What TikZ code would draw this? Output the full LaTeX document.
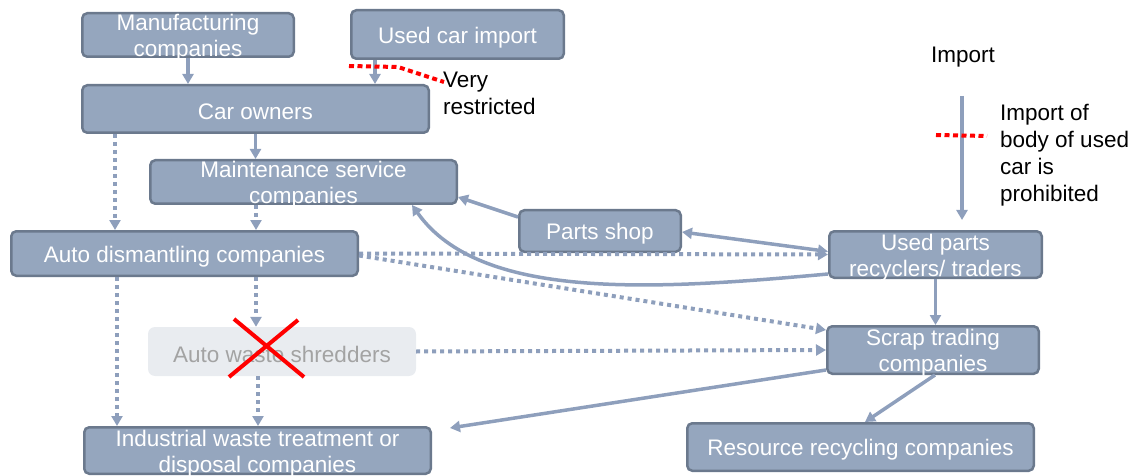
\documentclass[tikz,border=0pt]{standalone}
\usepackage{fontspec}
\setmainfont{Liberation Sans}
\usetikzlibrary{arrows.meta,calc}
\definecolor{boxfill}{HTML}{95A6BE}
\definecolor{boxline}{HTML}{6B798D}
\definecolor{flow}{HTML}{8E9FBC}
\definecolor{shrfill}{HTML}{E9ECF0}
\definecolor{shrtext}{HTML}{A3A3A3}
\tikzset{
  box/.style={draw=boxline, line width=2.5pt, fill=boxfill, rounded corners=5pt, inner sep=0pt},
  boxtext/.style={text=white, align=center, inner sep=0pt, font=\fontsize{22.5}{26}\selectfont},
  ghost/.style={fill=shrfill, rounded corners=7pt, inner sep=0pt},
  ghosttext/.style={text=shrtext, inner sep=0pt, font=\fontsize{22.5}{26}\selectfont},
  solidflow/.style={draw=flow, line width=3.5pt, -{Triangle[length=10pt,width=11pt]}},
  dotflow/.style={draw=flow, line width=4pt, dash pattern=on 4pt off 4pt,
    -{Triangle[length=10pt,width=11pt]}},
  bothflow/.style={draw=flow, line width=3.5pt,
    {Triangle[length=10pt,width=11pt]}-{Triangle[length=10pt,width=11pt]}},
  reddot/.style={draw=red, line width=4pt, dash pattern=on 5pt off 3.5pt},
  redx/.style={draw=red, line width=4pt},
  note/.style={text=black, align=left, inner sep=0pt, font=\fontsize{22.5}{26.8}\selectfont}
}
% #1 name, #2 centre, #3 width, #4 height, #5 text
\newcommand\flowbox[5]{%
  \node[box, minimum width=#3, minimum height=#4] (#1) at #2 {};
  \node[boxtext] (#1-t) at ([yshift=-3pt]#1.center) {#5};}
\begin{document}
\begin{tikzpicture}[x=1pt,y=-1pt]
\useasboundingbox (0,0) rectangle (1136,476);
% nodes
\flowbox{mfg}{(188,35)}{211.5pt}{43.5pt}{Manufacturing\\companies}
\flowbox{imp}{(457.5,34.5)}{212.5pt}{48.5pt}{Used car import}
\flowbox{own}{(255.5,109)}{346.5pt}{47.5pt}{Car owners}
\flowbox{mnt}{(303.5,182)}{306.5pt}{43.5pt}{Maintenance service\\companies}
\flowbox{dis}{(184.5,253.5)}{346.5pt}{44.5pt}{Auto dismantling companies}
\flowbox{shop}{(600,231)}{161.5pt}{41.5pt}{Parts shop}
\flowbox{upr}{(935.5,254.5)}{212.5pt}{46.5pt}{Used parts\\recyclers/ traders}
\node[ghost, minimum width=268pt, minimum height=49pt] (shr) at (282,351.5) {};
\node[ghosttext] (shr-t) at ([yshift=-3pt]shr.center) {Auto waste shredders};
\flowbox{scr}{(933,350)}{211.5pt}{47.5pt}{Scrap trading\\companies}
\flowbox{ind}{(257.5,450.5)}{346.5pt}{46.5pt}{Industrial waste treatment or\\disposal companies}
\flowbox{res}{(860.5,447)}{346.5pt}{47.5pt}{Resource recycling companies}
% notes
\node[note] (imptxt) at (963,57) {Import};
\node[note, anchor=west] (vr) at (443,93) {Very\\restricted};
\node[note, anchor=west] (proh) at (1000,155) {Import of\\body of used\\car is\\prohibited};
\coordinate (impstart) at (962,96);
% connectors
\draw[solidflow] (mfg.south) -- (mfg.south |- own.north);
\draw[solidflow] ([xshift=-82.5pt]imp.south) -- ([xshift=119.5pt]own.north);
\draw[solidflow] (own.south) -- ([xshift=-48pt]mnt.north);
\draw[dotflow] ([xshift=-140.5pt]own.south) -- ([xshift=-69.5pt]dis.north);
\draw[dotflow] ([xshift=-47.5pt]mnt.south) -- ([xshift=71.5pt]dis.north);
\draw[solidflow] ([yshift=-8pt]shop.north west) -- ([yshift=-15pt]mnt.east);
\draw[bothflow] ([yshift=-1pt]shop.east) -- ([yshift=3pt]upr.west);
\draw[dotflow] (dis.east) -- (upr.west);
\draw[dotflow] ([yshift=-2pt]dis.east) -- ([yshift=20pt]scr.west);
\draw[solidflow] ([yshift=-19.5pt]upr.west) .. controls +(-176,16) and +(68,96) .. ([xshift=108.5pt]mnt.south);
\draw[solidflow] (upr.south) -- (upr.south |- scr.north);
\draw[solidflow] (impstart) -- ([xshift=26.5pt,yshift=10pt]upr.north);
\draw[dotflow] ([xshift=-67.5pt]dis.south) -- ([xshift=-140.5pt]ind.north);
\draw[dotflow] ([xshift=71.5pt]dis.south) -- ([xshift=-26pt]shr.north);
\draw[dotflow] ([xshift=-24pt]shr.south) -- ([xshift=0.5pt]ind.north);
\draw[dotflow] (shr.east) -- (scr.west);
\draw[solidflow] ([yshift=-20pt]scr.west) -- ([xshift=18pt,yshift=-2pt]ind.north east);
\draw[solidflow] ([xshift=2pt]scr.south) -- ([xshift=4.5pt]res.north);
% red marks
\draw[reddot] (349,66) -- (398,67) -- (444,82);
\draw[reddot] (936,135) -- (987,136);
\draw[redx] (234,319) -- (304,377);
\draw[redx] (229,377) -- (298,320);
\end{tikzpicture}
\end{document}
